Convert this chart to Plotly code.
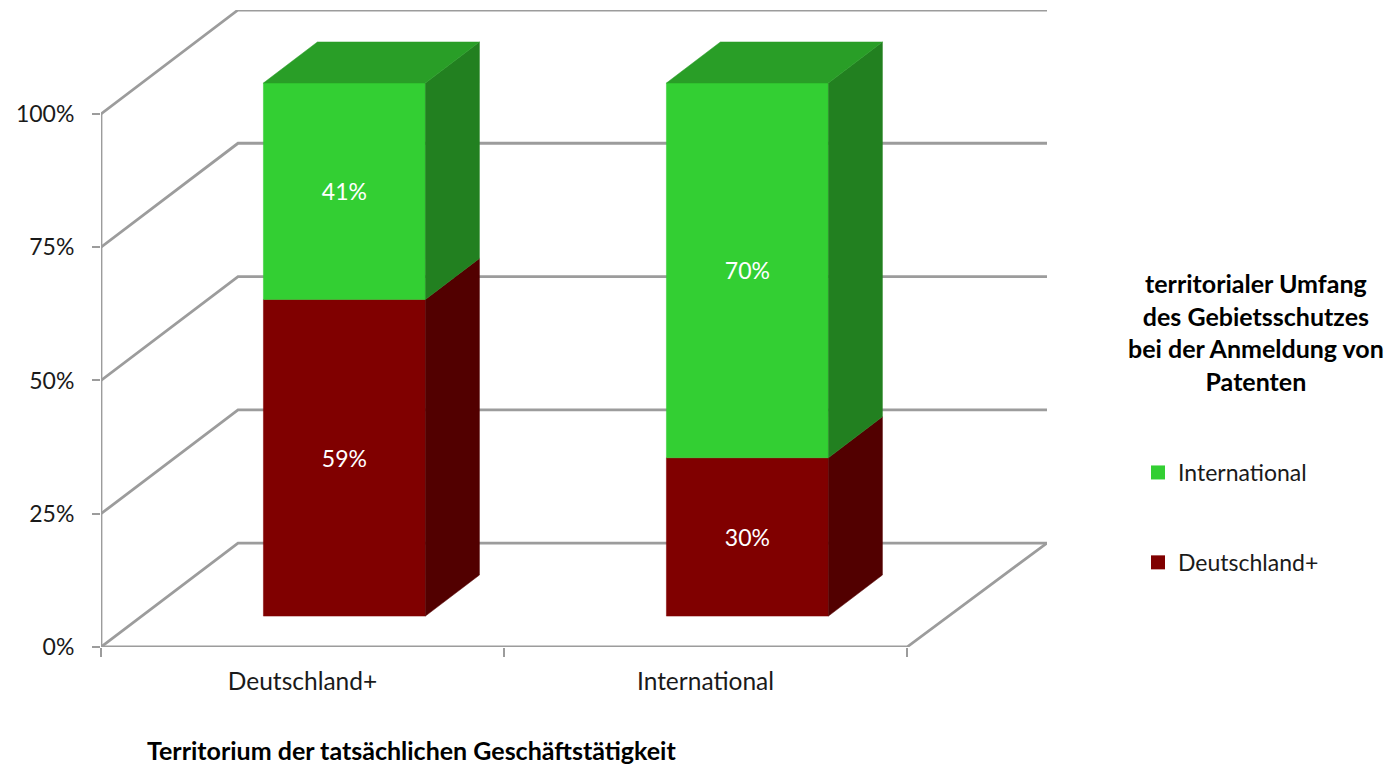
import plotly.graph_objects as go

categories = ["Deutschland+", "International"]
series_names = ["Deutschland+", "International"]
deutschland = [59.4, 29.7]
international = [40.6, 70.3]
y_ticks = [0, 25, 50, 75, 100]

front_colors = {"Deutschland+": "#800000", "International": "#33CF33"}
side_colors = {"Deutschland+": "#520000", "International": "#228020"}
top_colors = {"Deutschland+": "#660000", "International": "#299E27"}
GRID = "#9C9C9C"
FONT = "Lato"

# oblique projection of the 3D box, in axis units
WALL_DX, WALL_DY = 0.34, 19.5
BAR_W, BAR_DX, BAR_DY = 0.402, 0.134, 7.7
BAR_OFF_X, BAR_OFF_Y = 0.104, 5.8
X_END = 2 + WALL_DX + 0.0074
Y_END = 119.5
LABEL_NUDGE = -0.6

fig = go.Figure()


def grid(xs, ys):
    fig.add_trace(go.Scatter(x=xs, y=ys, mode="lines", showlegend=False, hoverinfo="skip",
                             cliponaxis=False, line=dict(color=GRID, width=2.8)))


for v in y_ticks:
    grid([0, WALL_DX, X_END], [v, v + WALL_DY, v + WALL_DY])
grid([0, 0], [0, 100])
grid([0, 2, X_END], [0, 0, WALL_DY])


def face(xs, ys, color):
    fig.add_trace(go.Scatter(x=xs + xs[:1], y=ys + ys[:1], mode="lines", fill="toself", fillcolor=color,
                             line=dict(width=0.5, color=color), showlegend=False, hoverinfo="skip"))


label_x, label_y, label_text = [], [], []
stacks = {"Deutschland+": deutschland, "International": international}
for i, cat in enumerate(categories):
    base = 0
    x0 = i + 0.5 + BAR_OFF_X - BAR_W / 2
    x1 = x0 + BAR_W
    for name in series_names:
        val = stacks[name][i]
        y0, y1 = base + BAR_OFF_Y, base + val + BAR_OFF_Y
        face([x0, x1, x1, x0], [y0, y0, y1, y1], front_colors[name])
        face([x1, x1 + BAR_DX, x1 + BAR_DX, x1], [y0, y0 + BAR_DY, y1 + BAR_DY, y1], side_colors[name])
        if name == series_names[-1]:
            face([x0, x1, x1 + BAR_DX, x0 + BAR_DX], [y1, y1, y1 + BAR_DY, y1 + BAR_DY], top_colors[name])
        label_x.append((x0 + x1) / 2)
        label_y.append((y0 + y1) / 2 + LABEL_NUDGE)
        label_text.append(f"{val:.0f}%")
        base += val

fig.add_trace(go.Scatter(x=label_x, y=label_y, text=label_text, mode="text", showlegend=False, hoverinfo="skip",
                         textfont=dict(family=FONT, size=23, color="white")))

for name in reversed(series_names):
    fig.add_trace(go.Scatter(x=[None], y=[None], mode="markers", name=name, legendgroup=name,
                             marker=dict(symbol="square", size=14, color=front_colors[name])))

fig.update_layout(
    width=1399, height=766, margin=dict(l=0, r=0, t=0, b=0),
    paper_bgcolor="white", plot_bgcolor="white",
    font=dict(family=FONT, size=23, color="#1a1a1a"),
    xaxis=dict(domain=[101 / 1399, 1047 / 1399], range=[0, X_END], showgrid=False, zeroline=False, showline=False,
               automargin=False, tickvals=[0.5, 1.5], ticktext=categories, ticks="", ticklabelstandoff=17,
               tickfont=dict(size=24.5),
               minor=dict(tickvals=[0, 1, 2], ticks="outside", ticklen=9, tickwidth=2, tickcolor=GRID, showgrid=False)),
    yaxis=dict(domain=[119 / 766, 756 / 766], range=[0, Y_END], showgrid=False, zeroline=False, showline=False,
               automargin=False, tickvals=y_ticks, ticktext=[f"{v}%" for v in y_ticks], ticks="outside", ticklen=8,
               tickwidth=2, tickcolor=GRID, ticklabelstandoff=13),
    legend=dict(x=1138 / 1399, xanchor="left", y=(766 - 451) / 766, yanchor="top", tracegroupgap=57,
                itemclick=False, itemdoubleclick=False, bgcolor="rgba(0,0,0,0)"),
    annotations=[
        dict(text="<b>Territorium der tatsächlichen Geschäftstätigkeit</b>", x=411 / 1399, y=(766 - 750) / 766,
             xref="paper", yref="paper", xanchor="center", yanchor="middle", showarrow=False,
             font=dict(size=25, color="black")),
        dict(text="<b>territorialer Umfang<br>des Gebietsschutzes<br>bei der Anmeldung von<br>Patenten</b>",
             x=1256 / 1399, y=(766 - 332) / 766, xref="paper", yref="paper", xanchor="center", yanchor="middle",
             showarrow=False, align="center", font=dict(size=25, color="black")),
    ],
)

fig.write_html("out.html", config={"displayModeBar": False},
               post_script="document.body.style.margin='0';")
